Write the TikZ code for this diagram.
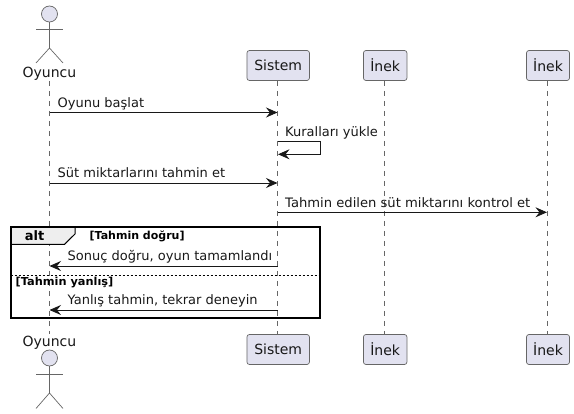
\documentclass[tikz,border=0pt]{standalone}
\usepackage{fontspec}
\setmainfont{DejaVu Sans}
\usetikzlibrary{arrows.meta,calc}
\definecolor{partfill}{HTML}{E2E2F0}
\definecolor{ink}{HTML}{181818}
\definecolor{softline}{HTML}{666666}
\definecolor{tabfill}{HTML}{EEEEEE}
\tikzset{
  partbox/.style={draw=softline,fill=partfill,line width=0.7pt,rounded corners=2.5pt,minimum height=30pt,inner sep=0pt,font=\fontsize{14}{16}\selectfont,text=ink},
  lifeline/.style={draw=softline,line width=0.7pt,dash pattern=on 5pt off 5pt},
  stick/.style={draw=softline,line width=0.7pt},
  headc/.style={circle,draw=softline,fill=partfill,line width=0.7pt,minimum size=16pt,inner sep=0pt},
  actorlabel/.style={inner sep=0pt,anchor=base,font=\fontsize{14}{16}\selectfont,text=ink},
  msg/.style={draw=ink,line width=0.9pt,-{Stealth[length=11.5pt,width=10pt,inset=4pt]}},
  msglabel/.style={inner sep=0pt,anchor=base west,font=\fontsize{13}{15}\selectfont,text=ink},
  guard/.style={inner sep=0pt,anchor=base west,font=\fontsize{11}{13}\selectfont\bfseries,text=black},
  frameline/.style={draw=black,line width=2pt},
}
\begin{document}
\begin{tikzpicture}[x=1pt,y=-1pt]
\useasboundingbox (0,0) rectangle (574,414);
% participants
\node[actorlabel] (o1) at (49.5,77.7) {Oyuncu};
\node[actorlabel] (o2) at (49.5,346.7) {Oyuncu};
\node[partbox,minimum width=62.5pt] (s1) at (278.2,65.5) {Sistem};
\node[partbox,minimum width=62.5pt] (s2) at (278.2,349.5) {Sistem};
\node[partbox,minimum width=43.5pt] (i1) at (385.2,65.5) {İnek};
\node[partbox,minimum width=43.5pt] (i2) at (385.2,349.5) {İnek};
\node[partbox,minimum width=43pt] (k1) at (548,65.5) {İnek};
\node[partbox,minimum width=43pt] (k2) at (548,349.5) {İnek};
% lifelines
\draw[lifeline] (49.5,81) -- (49.5,334);
\draw[lifeline] (s1.south -| 277.5,0) -- (s2.north -| 277.5,0);
\draw[lifeline] (i1.south -| 384.5,0) -- (i2.north -| 384.5,0);
\draw[lifeline] (k1.south -| 547,0) -- (k2.north -| 547,0);
% actors
\node[headc] (h1) at (49.5,14) {};
\draw[stick] (h1.south) -- (49.5,48) coordinate (hip1);
\coordinate (a1l) at (36,29); \coordinate (a1r) at (63,29);
\draw[stick] (a1l) -- (a1r);
\coordinate (f1l) at (36,63); \coordinate (f1r) at (63,63);
\draw[stick] (f1l) -- (hip1) -- (f1r);
\node[headc] (h2) at (49.5,358) {};
\draw[stick] (h2.south) -- (49.5,393) coordinate (hip2);
\coordinate (a2l) at (36,374); \coordinate (a2r) at (63,374);
\draw[stick] (a2l) -- (a2r);
\coordinate (f2l) at (36,408.5); \coordinate (f2r) at (63,408.5);
\draw[stick] (f2l) -- (hip2) -- (f2r);
% anchors on lifelines
\coordinate (oa) at (49.5,112.5); \coordinate (sa) at (277.5,112.5);
\coordinate (sb) at (278,141.5); \coordinate (sbr) at (320.7,141.5);
\coordinate (sbe) at (320.7,154.3); \coordinate (sbt) at (278,154.3);
\coordinate (oc) at (49.5,183); \coordinate (sc) at (277.5,183);
\coordinate (sd) at (277.5,212.3); \coordinate (kd) at (547,212.3);
\coordinate (se) at (277.5,266); \coordinate (oe) at (49.5,266);
\coordinate (sf) at (277.5,310); \coordinate (of) at (49.5,310);
% frame
\coordinate (fa) at (10.5,227); \coordinate (fb) at (320,318);
\fill[tabfill] (10.5,227) -- (75,227) -- (75,234) -- (64.5,244.3) -- (10.5,244.3) -- cycle;
\draw[draw=black,line width=1pt] (75,227) -- (75,234) -- (64.5,244.3) -- (10.5,244.3);
\draw[frameline] (fa) rectangle (fb);
\draw[draw=black,line width=0.7pt,dash pattern=on 2pt off 2pt] (10.5,275) -- (320,275);
\node[inner sep=0pt,anchor=base,font=\fontsize{13}{15}\selectfont\bfseries,text=black] (alt) at (34.5,241) {alt};
\node[guard] (g1) at (89.5,240) {[Tahmin doğru]};
\node[guard] (g2) at (15.5,286) {\scalebox{1.03}[1]{[Tahmin yanlış]}};
% messages
\draw[msg] (oa) -- (sa);
\node[msglabel] (m1) at (57.5,107.5) {Oyunu başlat};
\draw[msg] (sb) -- (sbr) -- (sbe) -- (sbt);
\node[msglabel] (m2) at (285,136.5) {Kuralları yükle};
\draw[msg] (oc) -- (sc);
\node[msglabel] (m3) at (57.5,178) {Süt miktarlarını tahmin et};
\draw[msg] (sd) -- (kd);
\node[msglabel] (m4) at (285,207.5) {\scalebox{1.01}[1]{Tahmin edilen süt miktarını kontrol et}};
\draw[msg] (se) -- (oe);
\node[msglabel] (m5) at (67.5,261) {Sonuç doğru, oyun tamamlandı};
\draw[msg] (sf) -- (of);
\node[msglabel] (m6) at (67.5,305) {Yanlış tahmin, tekrar deneyin};
\end{tikzpicture}
\end{document}
